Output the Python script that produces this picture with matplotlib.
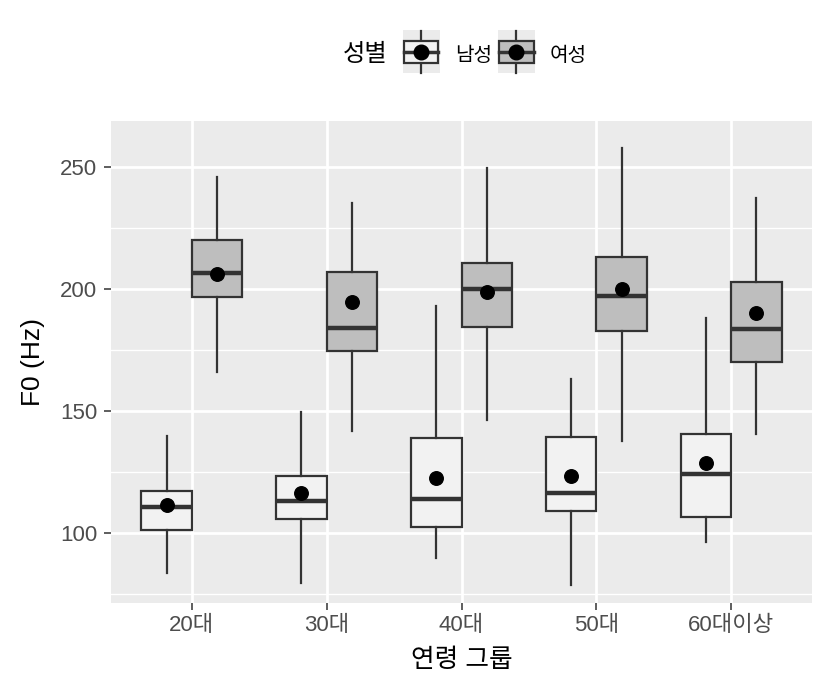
import numpy as np
import matplotlib
matplotlib.use("Agg")
import matplotlib.pyplot as plt
from matplotlib.legend_handler import HandlerBase
from matplotlib.patches import Rectangle
from matplotlib.lines import Line2D

plt.rcParams['font.family'] = ['Liberation Sans', 'Noto Sans CJK KR', 'DejaVu Sans']

# data
groups = ["20대", "30대", "40대", "50대", "60대이상"]
sexes = ["남성", "여성"]
fills = {"남성": "#F2F2F2", "여성": "#BEBEBE"}

male_whislo = [83.4, 79.3, 89.8, 78.6, 96.1]
male_q1 = [101.1, 105.5, 102.5, 108.8, 106.3]
male_med = [110.7, 113.1, 113.8, 116.4, 124.1]
male_q3 = [117.1, 123.2, 138.7, 139.1, 140.5]
male_whishi = [139.8, 149.6, 192.9, 163.1, 187.9]
male_mean = [111.4, 116.1, 122.3, 123.4, 128.7]

female_whislo = [166.0, 141.8, 146.2, 137.6, 140.3]
female_q1 = [196.5, 174.6, 184.4, 182.5, 170.1]
female_med = [206.6, 183.8, 199.8, 197.0, 183.4]
female_q3 = [220.0, 207.0, 210.4, 213.0, 202.6]
female_whishi = [245.9, 235.0, 249.3, 257.5, 237.3]
female_mean = [206.0, 194.7, 198.6, 199.9, 189.9]

series = {
    "남성": (male_whislo, male_q1, male_med, male_q3, male_whishi, male_mean),
    "여성": (female_whislo, female_q1, female_med, female_q3, female_whishi, female_mean),
}

edge = "#333333"
fig = plt.figure(figsize=(8.27, 6.93), dpi=100)
ax = fig.add_axes([0.1342, 0.1299, 0.8477, 0.6955])
ax.set_facecolor("#EBEBEB")

x = np.arange(1, len(groups) + 1)
offsets = {"남성": -0.1875, "여성": 0.1875}

for sex in sexes:
    lo, q1, med, q3, hi, mean = series[sex]
    stats = []
    for i in range(len(groups)):
        stats.append(dict(whislo=lo[i], q1=q1[i], med=med[i], q3=q3[i],
                          whishi=hi[i], fliers=[]))
    pos = x + offsets[sex]
    ax.bxp(stats, positions=pos, widths=0.375, patch_artist=True,
           showcaps=False, showfliers=False, manage_ticks=False,
           boxprops=dict(facecolor=fills[sex], edgecolor=edge, linewidth=1.6),
           whiskerprops=dict(color=edge, linewidth=1.6),
           medianprops=dict(color=edge, linewidth=3.2, solid_capstyle="butt"),
           zorder=3)
    ax.scatter(pos, mean, s=95, color="black", zorder=4)

ax.set_xlim(0.4, 5.6)
ax.set_ylim(71.2, 268.7)
ax.set_xticks(x)
ax.set_xticklabels(groups)
ax.set_yticks([100, 150, 200, 250])
ax.set_yticks([75, 125, 175, 225], minor=True)
ax.grid(True, which="major", color="white", linewidth=2.0, zorder=0)
ax.grid(True, which="minor", axis="y", color="white", linewidth=1.0, zorder=0)
ax.set_axisbelow(True)
for s in ax.spines.values():
    s.set_visible(False)
ax.tick_params(axis="both", which="major", length=5, width=1.1, color=edge,
               labelsize=16, labelcolor="#4D4D4D")
ax.tick_params(axis="y", pad=5)
ax.tick_params(axis="x", pad=4)
ax.tick_params(axis="both", which="minor", length=0)
ax.set_ylabel("F0 (Hz)", fontsize=19, color="black", labelpad=11)
ax.set_xlabel("연령 그룹", fontsize=18.5, color="black", labelpad=8)


class BoxHandler(HandlerBase):
    def __init__(self, fill):
        super().__init__()
        self.fill = fill

    def create_artists(self, legend, orig_handle, xdescent, ydescent,
                       width, height, fontsize, trans):
        x0, y0 = -xdescent, -ydescent
        cy = y0 + height / 2 + 1.5
        bg = Rectangle((x0, cy - 15.5), width, 31,
                       facecolor="#EBEBEB", edgecolor="none", transform=trans)
        cx = x0 + width / 2
        vline = Line2D([cx, cx], [cy - 15, cy + 15],
                       color=edge, lw=1.6, transform=trans)
        box = Rectangle((x0 + 1, cy - 8), width - 2, 16,
                        facecolor=self.fill, edgecolor=edge, lw=1.6,
                        transform=trans)
        mline = Line2D([x0 + 1, x0 + width - 1], [cy, cy], color=edge, lw=2.5,
                       transform=trans)
        dot = Line2D([cx], [cy], marker="o", color="black",
                     markersize=10.5, transform=trans)
        return [bg, vline, box, mline, dot]


handles = [Rectangle((0, 0), 1, 1) for _ in sexes]
handler_map = {handles[0]: BoxHandler(fills["남성"]),
               handles[1]: BoxHandler(fills["여성"])}
fig.text(0.469, 0.921, "성별", fontsize=17.5, ha="right", va="center")
leg = fig.legend(handles, sexes, handler_map=handler_map, loc="center left",
                 bbox_to_anchor=(0.487, 0.921), ncol=2, frameon=False,
                 fontsize=14.5, handlelength=1.84, handleheight=1.0,
                 handletextpad=0.75, columnspacing=0.3, borderaxespad=0,
                 borderpad=0)

fig.savefig("out.png", dpi=100)
